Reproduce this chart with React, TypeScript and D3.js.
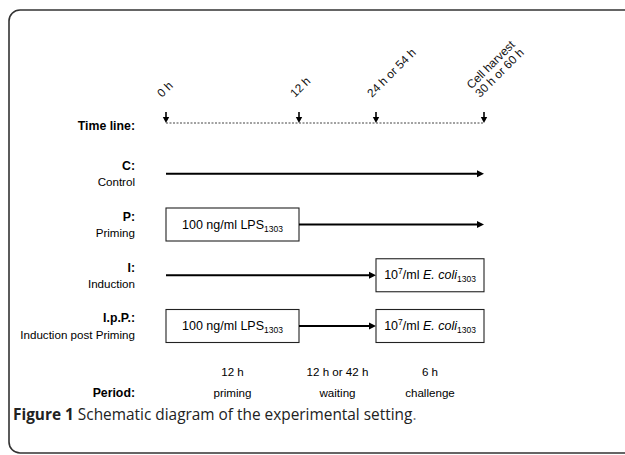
import React from "react";
import * as d3 from "d3";

const timePoints = [0, 12, 24, 30];
const timeLabels = [["0 h"], ["12 h"], ["24 h or 54 h"], ["Cell harvest", "30 h or 60 h"]];
const rowCodes = ["C:", "P:", "I:", "I.p.P.:"];
const rowNames = ["Control", "Priming", "Induction", "Induction post Priming"];
// segments per row: [kind, fromTime, toTime]
const rowSegments: [string, number, number][][] = [
  [["arrow", 0, 30]],
  [["lps", 0, 12], ["arrow", 12, 30]],
  [["arrow", 0, 24], ["ecoli", 24, 30]],
  [["lps", 0, 12], ["arrow", 12, 24], ["ecoli", 24, 30]],
];
const durations = ["12 h", "12 h or 42 h", "6 h"];
const periods = ["priming", "waiting", "challenge"];

const W = 625;
const H = 455;
const FONT = "'Liberation Sans', Arial, sans-serif";
const FS = 11.6;
const FSB = 12.3;

export default function App() {
  // schematic (non-linear) time axis
  const x = d3.scaleLinear().domain(timePoints).range([166, 299, 376, 484]);
  const rowY = d3.scalePoint<number>().domain([0, 1, 2, 3, 4].map(String) as any).range([123, 326]);
  const yOf = (i: number) => rowY(String(i) as any) as number;
  const labelX = 135;
  const boxH = 33;

  const arrowHead = (xe: number, y: number) =>
    `M${xe},${y} L${xe - 7},${y - 3.5} L${xe - 7},${y + 3.5} Z`;

  const boxText = (kind: string) =>
    kind === "lps" ? (
      <>
        100 ng/ml LPS
        <tspan fontSize={8.5} dy={3}>1303</tspan>
      </>
    ) : (
      <>
        10
        <tspan fontSize={8.5} dy={-5}>7</tspan>
        <tspan dy={5}>/ml </tspan>
        <tspan fontStyle="italic">E. coli</tspan>
        <tspan fontSize={8.5} dy={3}>1303</tspan>
      </>
    );

  return (
    <svg width={W} height={H} style={{ position: "absolute", left: 0, top: 0, background: "#fff" }}>
      <rect x={9} y={10} width={700} height={443} rx={11} fill="none" stroke="#333" strokeWidth={1.6} />

      {/* time line */}
      <text x={labelX} y={127} textAnchor="end" fontFamily={FONT} fontSize={FSB} fontWeight="bold" dominantBaseline="middle">
        Time line:
      </text>
      <line x1={x(0)} x2={x(30)} y1={yOf(0)} y2={yOf(0)} stroke="#444" strokeWidth={1} strokeDasharray="2,1.5" />
      {timePoints.map((t, i) => (
        <g key={"tp" + i}>
          <line x1={x(t)} x2={x(t)} y1={112} y2={118} stroke="#000" strokeWidth={1.6} />
          <path d={`M${x(t)},${yOf(0)} L${x(t) - 3.2},${117} L${x(t) + 3.2},${117} Z`} fill="#000" />
          <text
            transform={`translate(${x(t) - 4},${98}) rotate(-45)`}
            fontFamily={FONT}
            fontSize={FS + 0.2}
            fill="#111"
          >
            {timeLabels[i].map((l, j) => (
              <tspan key={j} x={0} dy={j === 0 ? -(timeLabels[i].length - 1) * 12 : 12}>
                {l}
              </tspan>
            ))}
          </text>
        </g>
      ))}

      {/* rows */}
      {rowSegments.map((segs, r) => {
        const y = yOf(r + 1);
        return (
          <g key={"row" + r}>
            <text x={labelX} y={y - 7} textAnchor="end" fontFamily={FONT} fontSize={FSB} fontWeight="bold" dominantBaseline="middle">
              {rowCodes[r]}
            </text>
            <text x={labelX} y={y + 9.5} textAnchor="end" fontFamily={FONT} fontSize={FS} dominantBaseline="middle">
              {rowNames[r]}
            </text>
            {segs.map(([kind, a, b], k) =>
              kind === "arrow" ? (
                <g key={k}>
                  <line x1={x(a)} x2={x(b) - 6} y1={y} y2={y} stroke="#000" strokeWidth={2.2} />
                  <path d={arrowHead(x(b), y)} fill="#000" />
                </g>
              ) : (
                <g key={k}>
                  <rect x={x(a)} y={y - boxH / 2} width={x(b) - x(a)} height={boxH} fill="#fff" stroke="#222" strokeWidth={1.1} />
                  <text
                    x={(x(a) + x(b)) / 2}
                    y={y + 4}
                    textAnchor="middle"
                    fontFamily={FONT}
                    fontSize={12.5}
                  >
                    {boxText(kind)}
                  </text>
                </g>
              )
            )}
          </g>
        );
      })}

      {/* durations and periods */}
      {durations.map((d, i) => (
        <text key={"d" + i} x={(x(timePoints[i]) + x(timePoints[i + 1])) / 2} y={373} textAnchor="middle" fontFamily={FONT} fontSize={FS} dominantBaseline="middle">
          {d}
        </text>
      ))}
      <text x={labelX} y={394} textAnchor="end" fontFamily={FONT} fontSize={FSB} fontWeight="bold" dominantBaseline="middle">
        Period:
      </text>
      {periods.map((p, i) => (
        <text key={"p" + i} x={(x(timePoints[i]) + x(timePoints[i + 1])) / 2} y={394} textAnchor="middle" fontFamily={FONT} fontSize={FS} dominantBaseline="middle">
          {p}
        </text>
      ))}

      {/* caption */}
      <text x={13} y={419.5} fontFamily="'Open Sans', sans-serif" fontSize={15.4} fill="#222">
        <tspan fontWeight="bold">Figure 1</tspan>
        <tspan> Schematic diagram of the experimental setting</tspan>
        <tspan fill="#777">.</tspan>
      </text>
    </svg>
  );
}
